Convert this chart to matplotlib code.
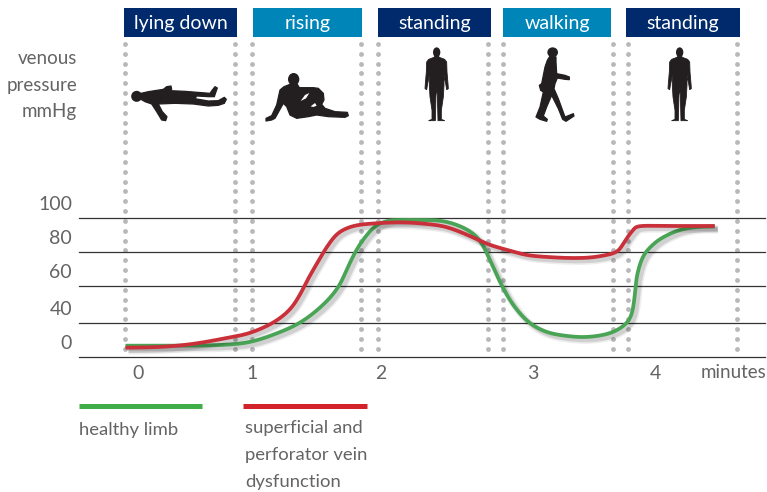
import numpy as np
from matplotlib import pyplot as plt
from matplotlib import patheffects as pe
from matplotlib.patches import Ellipse, Polygon, Rectangle
from matplotlib.transforms import ScaledTranslation

W, H = 767, 492

phases = ["lying down", "rising", "standing", "walking", "standing"]
phase_colors = ["#002a6b", "#0085b9", "#002a6b", "#0085b9", "#002a6b"]
phase_left = [124, 253, 378, 503, 626]
phase_right = [237, 362, 491, 611, 740]
dot_columns = [125, 234.5, 251.7, 361, 378, 488, 503, 612.7, 627.7, 737.3]

minute_ticks = [0, 1, 2, 3, 4]
pressure_ticks = [0, 40, 60, 80, 100]

green_min = [-0.11, 0.19, 0.48, 0.78, 0.98, 1.16, 1.37, 1.55, 1.67, 1.74, 1.81, 1.89, 1.97, 2.05, 2.13,
             2.26, 2.39, 2.50, 2.60, 2.67, 2.74, 2.80, 2.87, 2.97, 3.11, 3.28, 3.44, 3.61, 3.73, 3.80,
             3.83, 3.85, 3.90, 3.98, 4.07, 4.20, 4.34, 4.49]
green_mmhg = [13.3, 13.3, 13.3, 14.5, 17.6, 25.9, 40, 49.7, 59.5, 70.6, 81.2, 90, 95.9, 98.4, 98.8,
              98.8, 98.4, 95.9, 91.2, 84.1, 70.6, 59.5, 49.7, 40.5, 29.4, 24.7, 23.5, 27.1, 35.3, 43.2,
              52.4, 65.3, 77.1, 84.1, 88.8, 92.9, 94.7, 95]
red_min = [-0.11, 0.19, 0.48, 0.78, 0.98, 1.16, 1.29, 1.37, 1.43, 1.51, 1.58, 1.66, 1.76, 1.89, 2.13,
           2.30, 2.43, 2.57, 2.70, 2.83, 2.96, 3.11, 3.28, 3.44, 3.57, 3.69, 3.75, 3.82, 3.88, 4.10, 4.49]
red_mmhg = [10.9, 11.8, 15.3, 22.4, 28.2, 40, 47, 55.1, 63.5, 74.1, 82.9, 90.6, 94.7, 96.5, 97.5,
            96.5, 94.7, 90, 84.7, 81.2, 78.2, 77.1, 76.5, 76.6, 77.8, 80.2, 86.1, 92.9, 95.3, 95.3, 95.3]

# the printed axes are not evenly spaced, so these tie values to pixels
minute_anchor = [-1, 0, 1, 2, 3, 4, 5]
minute_px = [24, 138, 252, 381, 533, 655, 777]
pressure_anchor = [0, 40, 60, 80, 100]
pressure_px = [0, 34, 71, 105, 139]

lying = [(48, 40), (70, 35), (115, 28), (125, 20), (138, 18), (140, 28), (135, 32), (180, 34), (255, 40), (262, 30),
         (270, 20), (277, 24), (272, 38), (268, 50), (250, 50), (215, 48), (210, 56), (250, 63), (280, 62), (298, 52),
         (304, 58), (298, 70), (280, 76), (250, 78), (205, 72), (150, 70), (100, 72), (112, 95), (126, 110), (122, 122),
         (110, 120), (95, 95), (80, 72), (60, 65), (48, 58)]
sitting = [(90, 58), (112, 58), (118, 68), (160, 68), (175, 70), (190, 85), (192, 105), (185, 118), (195, 130),
           (225, 140), (262, 142), (265, 152), (255, 157), (205, 155), (170, 150), (145, 155), (110, 160), (90, 150),
           (80, 125), (70, 115), (45, 160), (35, 165), (18, 168), (18, 160), (35, 152), (50, 120), (60, 75), (72, 65)]
sitting_gaps = [[(122, 108), (135, 90), (148, 84), (138, 100)], [(152, 124), (165, 114), (170, 122), (160, 126)]]
standing_half = [(5, 42), (8, 46), (24, 52), (30, 60), (31, 90), (34, 125), (35, 140), (30, 143), (27, 125), (22, 100),
                 (22, 130), (20, 165), (14, 205), (14, 232), (24, 236), (4, 236), (2, 160), (0, 135)]
walking = [(60, 42), (78, 45), (78, 60), (80, 95), (105, 100), (118, 105), (118, 113), (105, 112), (82, 108), (75, 125),
           (72, 140), (85, 170), (105, 225), (130, 215), (132, 222), (108, 238), (98, 232), (85, 200), (65, 160),
           (50, 195), (40, 222), (52, 232), (50, 238), (30, 232), (18, 225), (30, 195), (40, 150), (32, 145), (28, 130),
           (35, 125), (45, 75), (52, 55)]

TEXT = "#646464"
BODY = "#231f20"
LABEL_FONT = ["Lato", "DejaVu Sans"]
HEAD_FONT = ["Lato", "DejaVu Sans"]


def smooth(xs, ys, n=12, win=9):
    # Catmull-Rom through the read points, only to round the line off
    p = np.column_stack([xs, ys]).astype(float)
    p = np.vstack([p[0], p, p[-1]])
    out = []
    for i in range(1, len(p) - 2):
        t = np.linspace(0, 1, n, endpoint=False)[:, None]
        a, b, c, d = p[i - 1], p[i], p[i + 1], p[i + 2]
        out.append(0.5 * (2 * b + (c - a) * t + (2 * a - 5 * b + 4 * c - d) * t ** 2 + (3 * b - a - 3 * c + d) * t ** 3))
    out.append(p[-2][None, :])
    out = np.vstack(out)
    kernel = np.ones(win) / win
    keep = win // 2
    sx = np.convolve(np.pad(out[:, 0], keep, mode="reflect", reflect_type="odd"), kernel, mode="valid")
    sy = np.convolve(np.pad(out[:, 1], keep, mode="reflect", reflect_type="odd"), kernel, mode="valid")
    return sx, sy


def smooth_curve(minutes, mmhg):
    # rounding has to happen on the printed spacing, or the scale's kinks show
    px, py = smooth(np.interp(minutes, minute_anchor, minute_px), np.interp(mmhg, pressure_anchor, pressure_px))
    return np.interp(px, minute_px, minute_anchor), np.interp(py, pressure_px, pressure_anchor)


def trace(ax, points, ox, oy, color=BODY, lw=0.9):
    pts = [(ox + x / 3, oy + y / 3) for x, y in points]
    ax.add_patch(Polygon(pts, closed=True, facecolor=color, edgecolor=color, lw=lw, joinstyle="round"))


def head(ax, ox, oy, x, y, w, h):
    ax.add_patch(Ellipse((ox + x / 3, oy + y / 3), w / 3, h / 3, facecolor=BODY, edgecolor="none"))


def standing_figure(ax, ox, oy):
    cx = 65
    right = [(cx + dx, y) for dx, y in standing_half]
    left = [(cx - dx, y) for dx, y in reversed(standing_half)]
    trace(ax, right + left, ox, oy, lw=0.6)
    head(ax, ox, oy, cx, 31, 22, 30)


fig = plt.figure(figsize=(W / 100, H / 100), dpi=100, facecolor="white")

# pixel layer for the layout furniture
back = fig.add_axes([0, 0, 1, 1])
back.set_xlim(0, W)
back.set_ylim(H, 0)
back.axis("off")

dot_y = np.arange(44, 350, 9.83)
for x in dot_columns:
    back.scatter(np.full(dot_y.shape, x), dot_y, s=12, color="#b7b7bc", linewidths=0, zorder=1)

for name, col, x0, x1 in zip(phases, phase_colors, phase_left, phase_right):
    back.add_patch(Rectangle((x0, 8), x1 - x0, 29, facecolor=col, edgecolor="none"))
    back.text((x0 + x1) / 2, 23, name, color="white", ha="center", va="center", fontsize=14, family=HEAD_FONT)

for label, y in zip(["venous", "pressure", "mmHg"], [58, 85, 111]):
    back.text(77, y, label, color=TEXT, ha="right", va="center", fontsize=13.5, family=LABEL_FONT)

trace(back, lying, 125, 80)
head(back, 125, 80, 35, 49, 33, 33)
trace(back, sitting, 260, 65)
for gap in sitting_gaps:
    trace(back, gap, 260, 65, color="white", lw=0)
head(back, 260, 65, 101, 43, 34, 38)
standing_figure(back, 415, 42)
trace(back, walking, 530, 42)
head(back, 530, 42, 68, 31, 32, 30)
standing_figure(back, 658, 42)

back.plot([79, 202], [405.5, 405.5], color="#3fae49", lw=3.6, solid_capstyle="butt")
back.plot([243, 367], [405.5, 405.5], color="#d2232a", lw=3.6, solid_capstyle="butt")
back.text(79, 430, "healthy limb", color=TEXT, ha="left", va="center", fontsize=13.3, family=LABEL_FONT)
for label, y in zip(["superficial and", "perforator vein", "dysfunction"], [428, 455, 482]):
    back.text(245, y, label, color=TEXT, ha="left", va="center", fontsize=13.3, family=LABEL_FONT)
back.text(766, 373, "minutes", color=TEXT, ha="right", va="center", fontsize=13.5, family=LABEL_FONT)

# chart layer, in minutes and mmHg
ax = fig.add_axes([79 / W, 1 - 357 / H, (765 - 79) / W, (357 - 218) / H])
ax.patch.set_alpha(0)
ax.set_xscale("function", functions=(lambda v: np.interp(v, minute_anchor, minute_px),
                                     lambda v: np.interp(v, minute_px, minute_anchor)))
ax.set_yscale("function", functions=(lambda v: np.interp(v, pressure_anchor, pressure_px),
                                     lambda v: np.interp(v, pressure_px, pressure_anchor)))
ax.set_xlim(np.interp(79, minute_px, minute_anchor), np.interp(765, minute_px, minute_anchor))
ax.set_ylim(0, 100)
for s in ax.spines.values():
    s.set_visible(False)

ax.set_xticks(minute_ticks, [str(m) for m in minute_ticks])
ax.set_yticks(pressure_ticks, [str(p) for p in pressure_ticks])
ax.minorticks_off()
ax.tick_params(length=0, labelcolor=TEXT, labelsize=14)
ax.tick_params(axis="x", pad=6)
ax.tick_params(axis="y", pad=5)
ax.grid(axis="y", color="#333333", lw=0.9)
ax.set_axisbelow(True)
for line in ax.get_ygridlines():
    line.set_clip_on(False)
for t in ax.get_xticklabels() + ax.get_yticklabels():
    t.set_family(LABEL_FONT)
up = ScaledTranslation(0, 15 / 100, fig.dpi_scale_trans)
for t in ax.get_yticklabels():
    t.set_transform(t.get_transform() + up)

shadow = [pe.SimpleLineShadow(offset=(2.2, -2.2), shadow_color="k", alpha=0.07, linewidth=5.5),
          pe.SimpleLineShadow(offset=(2.2, -2.2), shadow_color="k", alpha=0.12, linewidth=3.2),
          pe.Normal()]
gx, gy = smooth_curve(green_min, green_mmhg)
rx, ry = smooth_curve(red_min, red_mmhg)
ax.plot(gx, gy, color="#4aa456", lw=2.7, solid_capstyle="butt", path_effects=shadow, clip_on=False, zorder=3)
ax.plot(rx, ry, color="#c9303a", lw=2.7, solid_capstyle="butt", path_effects=shadow, clip_on=False, zorder=4)

fig.savefig("out.png", dpi=100)
